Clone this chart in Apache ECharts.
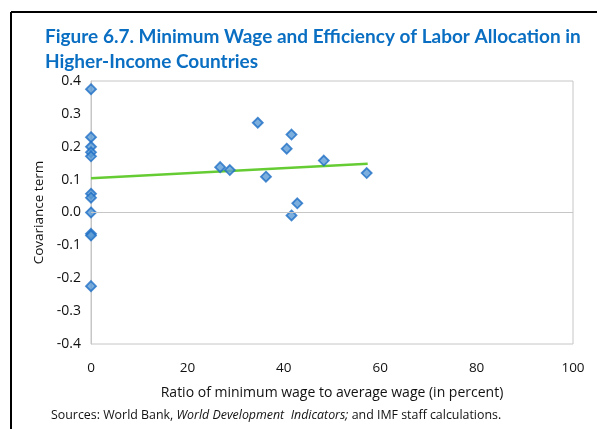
<!DOCTYPE html>
<html>
<head>
<meta charset="utf-8">
<script src="https://cdn.jsdelivr.net/npm/echarts@6/dist/echarts.min.js"></script>
<style>html,body{margin:0;padding:0;background:#fff;}#c{width:597px;height:429px;}</style>
</head>
<body>
<div id="c"></div>
<script>
var titleText = 'Figure 6.7. Minimum Wage and Efficiency of Labor Allocation in\nHigher-Income Countries';
var xAxisName = 'Ratio of minimum wage to average wage (in percent)';
var yAxisName = 'Covariance term';
var xValues = [0, 0, 0, 0, 0, 0, 0, 0, 0, 0, 0, 26.8, 28.8, 34.6, 36.3, 40.6, 41.6, 41.6, 42.8, 48.3, 57.2];
var yValues = [0.375, 0.229, 0.200, 0.183, 0.171, 0.057, 0.045, 0.0, -0.065, -0.070, -0.224, 0.138, 0.129, 0.273, 0.109, 0.194, 0.237, -0.009, 0.028, 0.158, 0.120];
var trendX = [0, 57.4];
var trendY = [0.104, 0.148];
var xTicks = [0, 20, 40, 60, 80, 100];
var yTicks = [-0.4, -0.3, -0.2, -0.1, 0.0, 0.1, 0.2, 0.3, 0.4];

var chart = echarts.init(document.getElementById('c'), null, {renderer: 'canvas'});
var pts = xValues.map(function (x, i) { return [x, yValues[i]]; });
var trend = trendX.map(function (x, i) { return [x, trendY[i]]; });
var labelFont = '"Open Sans", "Noto Sans", sans-serif';

chart.setOption({
  animation: false,
  backgroundColor: '#fff',
  title: {
    text: titleText,
    left: 45, top: 24, padding: 0,
    textStyle: {fontFamily: 'Lato, "Open Sans", sans-serif', fontWeight: 'bold', fontSize: 19, color: '#0a6fc2', lineHeight: 25}
  },
  grid: {left: 91, right: 24, top: 81, bottom: 85, show: true, borderColor: '#c6c6c6', borderWidth: 1},
  xAxis: {
    type: 'value', min: xTicks[0], max: xTicks[xTicks.length - 1], interval: 20,
    axisLine: {show: false}, axisTick: {show: false}, splitLine: {show: false},
    axisLabel: {fontFamily: labelFont, fontSize: 13.5, color: '#111', margin: 17},
    name: xAxisName, nameLocation: 'middle', nameGap: 42,
    nameTextStyle: {fontFamily: labelFont, fontSize: 14, color: '#111'}
  },
  yAxis: {
    type: 'value', min: yTicks[0], max: yTicks[yTicks.length - 1], interval: 0.1,
    axisLine: {show: true, lineStyle: {color: '#c6c6c6'}}, axisTick: {show: false}, splitLine: {show: false},
    axisLabel: {fontFamily: labelFont, fontSize: 14, color: '#111', margin: 10,
      formatter: function (v) { return (Math.abs(v) < 1e-9 ? 0 : v).toFixed(1); }},
    name: yAxisName, nameLocation: 'middle', nameGap: 36,
    nameTextStyle: {fontFamily: labelFont, fontSize: 13.5, color: '#111'}
  },
  series: [
    {
      type: 'line', data: trend, symbol: 'none', z: 2,
      lineStyle: {color: '#66cc33', width: 2.5},
      markLine: {
        silent: true, symbol: 'none', label: {show: false},
        lineStyle: {color: '#c6c6c6', width: 1, type: 'solid'},
        data: [{yAxis: 0}]
      }
    },
    {
      type: 'scatter', data: pts, symbol: 'diamond', symbolSize: 10, z: 3,
      itemStyle: {color: '#5b9bd5', borderColor: '#1f6fc5', borderWidth: 1.8}
    }
  ],
  graphic: [
    {type: 'line', shape: {x1: 11, y1: 12, x2: 597, y2: 12}, style: {stroke: '#000', lineWidth: 2}},
    {type: 'line', shape: {x1: 11, y1: 12, x2: 11, y2: 429}, style: {stroke: '#000', lineWidth: 2}},
    {
      type: 'text', left: 51, top: 409,
      style: {
        text: '{n|Sources: World Bank, }{i|World Development  Indicators;}{n| and IMF staff calculations.}',
        rich: {
          n: {fontFamily: labelFont, fontSize: 12.4, fill: '#111'},
          i: {fontFamily: labelFont, fontSize: 12.4, fontStyle: 'italic', fill: '#111'}
        }
      }
    }
  ]
});
</script>
</body>
</html>
